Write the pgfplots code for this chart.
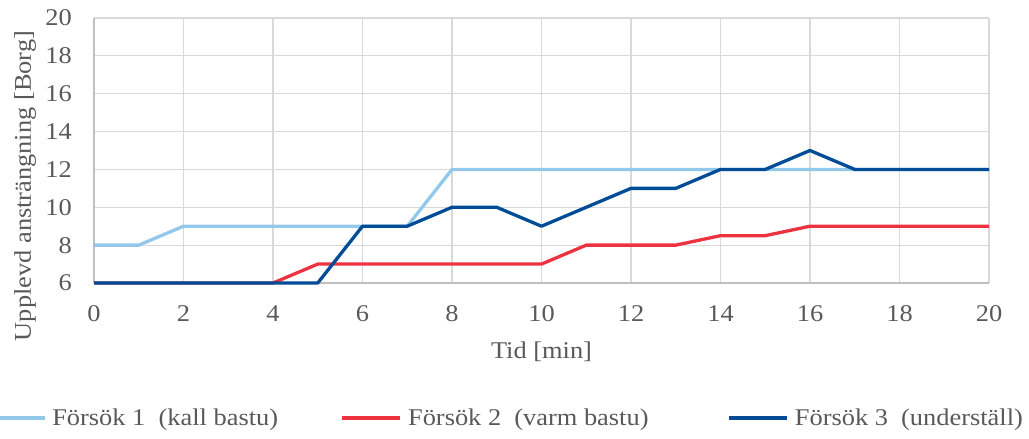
\documentclass[border=0pt]{standalone}
\usepackage{fontspec}
\setmainfont{Liberation Serif}[FakeStretch=1.1]
\usepackage{pgfplots}
\pgfplotsset{compat=1.18}
\definecolor{c1}{HTML}{92C9EA}
\definecolor{c2}{HTML}{EE3340}
\definecolor{c3}{HTML}{004C97}
\definecolor{txt}{HTML}{595959}
\definecolor{gridc}{HTML}{D9D9D9}
\definecolor{axc}{HTML}{BFBFBF}
\newcommand{\cf}{\fontsize{24bp}{28bp}\selectfont}
\begin{document}
\begin{tikzpicture}
\path[use as bounding box] (0,0) rectangle (1029bp,439bp);
\begin{axis}[
  at={(94bp,156bp)}, anchor=south west,
  scale only axis, width=895bp, height=265bp,
  xmin=0, xmax=20, ymin=6, ymax=20,
  xtick={0,2,...,20}, ytick={6,8,...,20},
  grid=major, major grid style={draw=gridc, line width=1.2bp},
  axis lines*=left, axis line style={draw=axc, line width=1.5bp, -},
  major tick length=0pt,
  clip=false,
  /pgf/number format/assume math mode=true,
  tick label style={font=\cf, text=txt},
  xticklabel style={anchor=base, yshift=-38bp},
  yticklabel style={anchor=east, inner sep=0pt, xshift=-22bp},
  xlabel={Tid [min]},
  xlabel style={at={(axis description cs:0.5,-0.26)}, anchor=center, font=\cf, text=txt},
  ylabel={Upplevd ansträngning [Borg]},
  ylabel style={at={(axis description cs:-0.077,0.366)}, anchor=center, rotate=0, font=\cf, text=txt},
  legend columns=3,
  legend style={at={(axis description cs:-0.1218,-0.5094)}, anchor=west, draw=none, fill=none, inner sep=0pt, outer sep=0pt, column sep=0pt,
    nodes={inner sep=0pt, text=txt, font=\cf}},
  legend image code/.code={\draw[#1] (0bp,0bp) -- (58bp,0bp); \path (64bp,0bp);},
  every axis plot/.append style={line width=3.3bp, line join=round, no markers},
]
\addplot[c1] coordinates {(0,8)(1,8)(2,9)(3,9)(4,9)(5,9)(6,9)(7,9)(8,12)(9,12)(10,12)(11,12)(12,12)(13,12)(14,12)(15,12)(16,12)(17,12)(18,12)(19,12)(20,12)};
\addlegendentry{\makebox[288.5bp][l]{Försök 1 \ (kall bastu)}}
\addplot[c2] coordinates {(0,6)(1,6)(2,6)(3,6)(4,6)(5,7)(6,7)(7,7)(8,7)(9,7)(10,7)(11,8)(12,8)(13,8)(14,8.5)(15,8.5)(16,9)(17,9)(18,9)(19,9)(20,9)};
\addlegendentry{\makebox[319.5bp][l]{Försök 2 \ (varm bastu)}}
\addplot[c3] coordinates {(0,6)(1,6)(2,6)(3,6)(4,6)(5,6)(6,9)(7,9)(8,10)(9,10)(10,9)(11,10)(12,11)(13,11)(14,12)(15,12)(16,13)(17,12)(18,12)(19,12)(20,12)};
\addlegendentry{Försök 3 \ (underställ)}
\end{axis}
\end{tikzpicture}
\end{document}
